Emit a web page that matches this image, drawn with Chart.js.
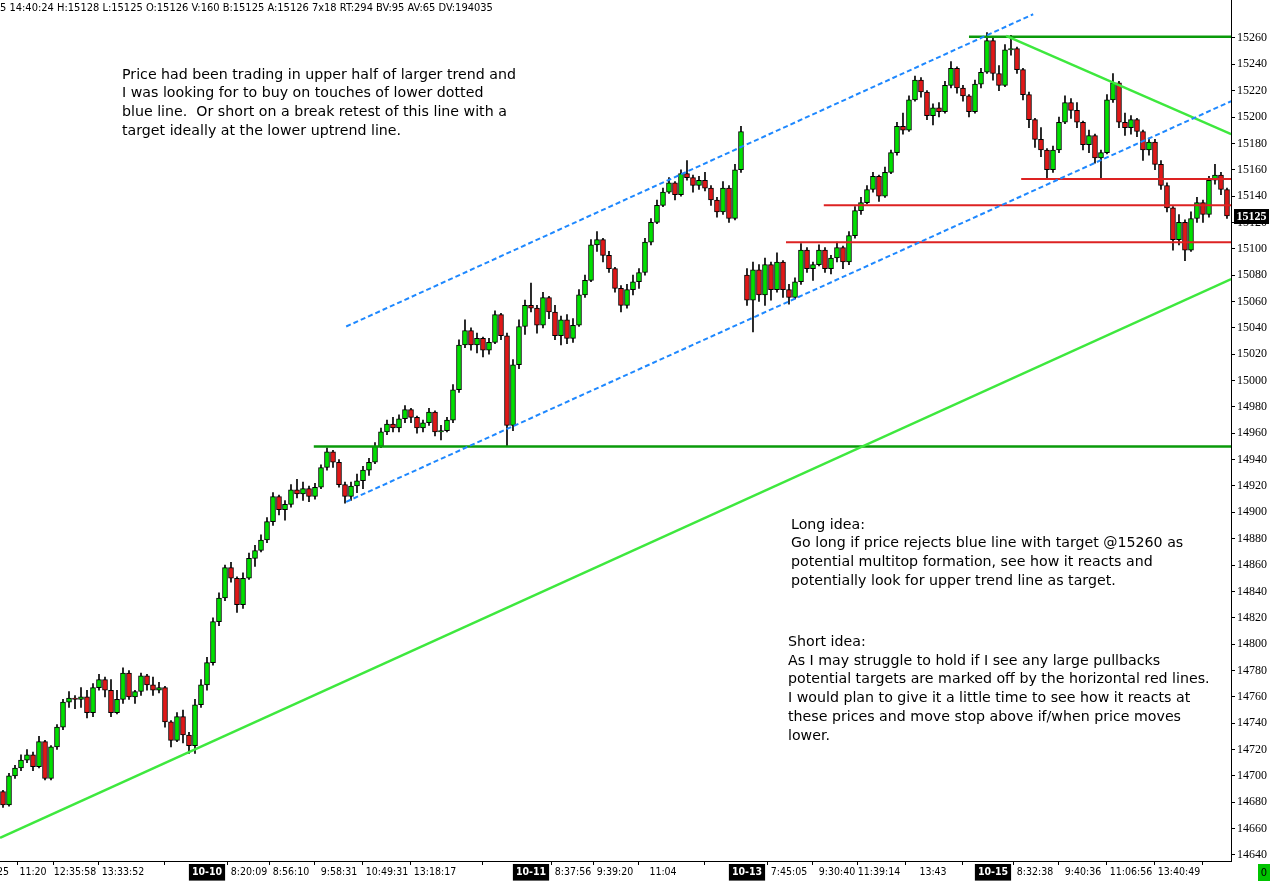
<!DOCTYPE html>
<html>
<head>
<meta charset="utf-8">
<title>Price chart</title>
<script src="https://cdn.jsdelivr.net/npm/chart.js@4.4.1/dist/chart.umd.min.js"></script>
<style>
  html, body { margin: 0; padding: 0; background: #fff; }
  #wrap { width: 1273px; height: 882px; position: relative; }
</style>
</head>
<body>
<div id="wrap"><canvas id="myChart"></canvas></div>
<script>
// candles per session: [open, high, low, close]
const oct09 = [
  [14688,14689,14676,14678], [14678,14702,14677,14700], [14700,14708,14698,14706], [14706,14716,14704,14712],
  [14712,14720,14710,14716], [14716,14718,14704,14707], [14707,14730,14706,14726], [14726,14727,14697,14698],
  [14698,14723,14697,14722], [14722,14739,14720,14737], [14737,14758,14735,14756], [14756,14764,14752,14759],
  [14759,14761,14751,14758], [14758,14767,14752,14760], [14760,14765,14744,14748], [14748,14770,14745,14767],
  [14767,14777,14765,14773], [14773,14775,14760,14765], [14765,14773,14745,14748], [14748,14765,14747,14758],
  [14758,14782,14755,14778], [14778,14780,14758,14760], [14760,14765,14755,14764], [14764,14778,14761,14776],
  [14776,14777,14765,14769], [14769,14775,14761,14765], [14765,14771,14763,14767], [14767,14768,14737,14741],
  [14741,14742,14722,14727], [14727,14748,14726,14745], [14745,14750,14725,14731], [14731,14733,14717,14723],
  [14723,14758,14717,14754], [14754,14773,14752,14769]
];

const oct10 = [
  [14769,14790,14765,14786], [14786,14820,14784,14817], [14817,14839,14814,14835], [14835,14860,14833,14858],
  [14858,14862,14847,14850], [14850,14851,14824,14830], [14830,14854,14827,14850], [14850,14869,14849,14865],
  [14865,14875,14859,14871], [14871,14883,14870,14879], [14879,14896,14877,14893], [14893,14915,14890,14912],
  [14912,14913,14898,14902], [14902,14909,14894,14906], [14906,14921,14904,14917], [14917,14925,14911,14914],
  [14914,14923,14909,14918], [14918,14920,14908,14912], [14912,14922,14910,14919], [14919,14936,14918,14934],
  [14934,14949,14932,14946], [14946,14947,14934,14938], [14938,14940,14919,14921], [14921,14923,14907,14912],
  [14912,14923,14909,14920], [14920,14929,14915,14924], [14924,14935,14918,14932], [14932,14941,14928,14938],
  [14938,14953,14937,14950], [14950,14964,14949,14961], [14961,14970,14959,14967], [14967,14972,14961,14964],
  [14964,14974,14961,14971], [14971,14981,14968,14978], [14978,14979,14968,14972], [14972,14973,14960,14964],
  [14964,14970,14961,14968], [14968,14979,14966,14976], [14976,14977,14958,14961], [14961,14966,14955,14962],
  [14962,14972,14961,14970], [14970,14997,14968,14993], [14993,15031,14991,15027], [15027,15046,15025,15038],
  [15038,15040,15023,15027], [15027,15036,15021,15032], [15032,15033,15018,15023], [15023,15032,15020,15029],
  [15029,15053,15028,15050], [15050,15051,15031,15034], [15034,15036,14950,14966], [14966,15016,14962,15012],
  [15012,15046,15009,15041], [15041,15061,15035,15057]
];

const oct11 = [
  [15057,15074,15052,15055], [15055,15057,15036,15042], [15042,15067,15040,15063], [15063,15064,15047,15052],
  [15052,15057,15031,15034], [15034,15049,15027,15046], [15046,15050,15028,15032], [15032,15047,15029,15042],
  [15042,15069,15041,15065], [15065,15080,15063,15076], [15076,15107,15075,15103], [15103,15113,15098,15107],
  [15107,15108,15090,15095], [15095,15098,15082,15085], [15085,15086,15067,15070], [15070,15072,15052,15057],
  [15057,15073,15055,15069], [15069,15080,15065,15075], [15075,15085,15070,15082], [15082,15108,15080,15105],
  [15105,15123,15103,15120], [15120,15137,15119,15133], [15133,15146,15132,15143], [15143,15154,15142,15150],
  [15150,15151,15137,15141], [15141,15160,15140,15157], [15157,15167,15152,15154], [15154,15156,15143,15148],
  [15148,15155,15145,15152], [15152,15158,15144,15146], [15146,15148,15133,15137], [15137,15139,15124,15128],
  [15128,15151,15126,15146], [15146,15148,15120,15123], [15123,15164,15122,15160], [15160,15193,15158,15189]
];

const oct13 = [
  [15080,15085,15057,15061], [15061,15090,15037,15084], [15084,15088,15060,15065], [15065,15093,15057,15088],
  [15088,15090,15061,15069], [15069,15097,15067,15090], [15090,15091,15063,15069], [15069,15073,15058,15063],
  [15063,15078,15062,15075], [15075,15104,15073,15099], [15099,15101,15082,15085], [15085,15090,15076,15088],
  [15088,15103,15087,15099], [15099,15101,15082,15085], [15085,15095,15081,15093], [15093,15105,15090,15101],
  [15101,15102,15085,15090], [15090,15113,15088,15110], [15110,15132,15108,15129], [15129,15139,15126,15135],
  [15135,15148,15134,15145], [15145,15158,15143,15155], [15155,15156,15136,15140], [15140,15162,15139,15158],
  [15158,15175,15157,15173], [15173,15196,15171,15193], [15193,15203,15187,15190], [15190,15216,15189,15213],
  [15213,15231,15212,15228], [15228,15230,15215,15219], [15219,15220,15198,15201], [15201,15210,15194,15207],
  [15207,15211,15200,15204], [15204,15227,15203,15224], [15224,15242,15222,15237], [15237,15238,15218,15222],
  [15222,15224,15212,15216], [15216,15217,15200,15204], [15204,15228,15203,15225], [15225,15237,15222,15234],
  [15234,15264,15233,15258]
];

const oct15 = [
  [15258,15260,15228,15233], [15233,15239,15220,15224], [15224,15255,15223,15251], [15251,15262,15247,15252],
  [15252,15253,15233,15236], [15236,15237,15213,15217], [15217,15219,15192,15198], [15198,15199,15177,15183],
  [15183,15192,15170,15175], [15175,15176,15154,15160], [15160,15178,15158,15175], [15175,15200,15173,15196],
  [15196,15216,15195,15211], [15211,15214,15199,15205], [15205,15211,15192,15196], [15196,15197,15175,15179],
  [15179,15190,15173,15186], [15186,15187,15165,15169], [15169,15175,15154,15173], [15173,15217,15172,15213],
  [15213,15233,15211,15226], [15226,15227,15192,15196], [15196,15203,15186,15192], [15192,15201,15187,15198],
  [15198,15199,15185,15189], [15189,15190,15167,15175], [15175,15184,15171,15181], [15181,15183,15160,15164],
  [15164,15167,15145,15148], [15148,15150,15128,15131], [15131,15132,15099,15107], [15107,15126,15103,15120],
  [15120,15122,15091,15099], [15099,15128,15098,15123], [15123,15139,15120,15135], [15135,15137,15120,15126],
  [15126,15155,15124,15152], [15152,15164,15149,15156], [15156,15158,15141,15145], [15145,15146,15123,15125]
];

// time axis labels (bar index -> text)
const tickIndex = [0, 5, 12, 20, 34, 41, 48, 56, 64, 72, 88, 95, 102, 110, 124, 131, 139, 146, 155, 165, 172, 180, 188, 196];
const tickText = ["25", "11:20", "12:35:58", "13:33:52", "10-10", "8:20:09", "8:56:10", "9:58:31", "10:49:31", "13:18:17",
  "10-11", "8:37:56", "9:39:20", "11:04", "10-13", "7:45:05", "9:30:40", "11:39:14", "13:43",
  "10-15", "8:32:38", "9:40:36", "11:06:56", "13:40:49"];

// drawn lines: [bar index, price] endpoints
const upperChannel = [[57.2, 15041], [171.7, 15278]];
const lowerChannel = [[57.2, 14908], [204.7, 15212]];
const majorUptrend = [[-0.5, 14653], [204.7, 15077]];
const topDowntrend = [[167.2, 15261.5], [204.7, 15187]];
const supportLine = [[51.8, 14950], [204.7, 14950]];
const topLine = [[161.0, 15261], [204.7, 15261]];
const redLevels = [[[169.7, 15153], [204.7, 15153]], [[136.8, 15133], [204.7, 15133]], [[130.5, 15105], [204.7, 15105]]];

const headerText = "5 14:40:24 H:15128 L:15125 O:15126 V:160 B:15125 A:15126 7x18 RT:294 BV:95 AV:65 DV:194035";
const noteTop = ["Price had been trading in upper half of larger trend and",
  "I was looking for to buy on touches of lower dotted",
  "blue line.  Or short on a break retest of this line with a",
  "target ideally at the lower uptrend line."];
const noteLong = ["Long idea:",
  "Go long if price rejects blue line with target @15260 as",
  "potential multitop formation, see how it reacts and",
  "potentially look for upper trend line as target."];
const noteShort = ["Short idea:",
  "As I may struggle to hold if I see any large pullbacks",
  "potential targets are marked off by the horizontal red lines.",
  "I would plan to give it a little time to see how it reacts at",
  "these prices and move stop above if/when price moves",
  "lower."];

const candles = [...oct09, ...oct10, ...oct11, ...oct13, ...oct15];
const lastClose = candles[candles.length - 1][3];

const narrowFont = '"Liberation Sans Narrow", "DejaVu Sans Condensed", sans-serif';
const serifFont = '"Liberation Serif", "DejaVu Serif", serif';
const noteFont = '14.2px "DejaVu Sans", sans-serif';

function lineSet(points, color, width, dash) {
  return {
    type: "line",
    data: points.map(p => ({ x: p[0], y: p[1] })),
    borderColor: color,
    borderWidth: width,
    borderDash: dash || [],
    pointRadius: 0,
    fill: false,
    tension: 0,
    order: 0
  };
}

const notesPlugin = {
  id: "notes",
  beforeDraw(chart) {
    const ctx = chart.ctx;
    ctx.save();
    ctx.fillStyle = "#fff";
    ctx.fillRect(0, 0, chart.width, chart.height);
    ctx.restore();
  },
  afterDraw(chart) {
    const ctx = chart.ctx;
    ctx.save();
    ctx.fillStyle = "#000";
    ctx.textBaseline = "middle";
    ctx.textAlign = "left";

    ctx.font = "11px " + narrowFont;
    ctx.fillText(headerText, 0, 8);

    ctx.font = noteFont;
    noteTop.forEach((t, k) => ctx.fillText(t, 122, 75 + k * 18.7));
    noteLong.forEach((t, k) => ctx.fillText(t, 791, 525 + k * 18.7));
    noteShort.forEach((t, k) => ctx.fillText(t, 788, 642 + k * 18.9));

    // last price marker
    const y = chart.scales.y.getPixelForValue(lastClose);
    ctx.fillStyle = "#000";
    ctx.fillRect(1234, Math.round(y) - 7, 35, 15);
    ctx.fillStyle = "#fff";
    ctx.font = "bold 12px " + serifFont;
    ctx.textAlign = "center";
    ctx.fillText(String(lastClose), 1251.5, y + 1);

    // status box bottom right
    ctx.fillStyle = "#00c400";
    ctx.fillRect(1258, 864, 12, 17);
    ctx.fillStyle = "#000";
    ctx.font = "11px " + narrowFont;
    ctx.fillText("0", 1264, 873);
    ctx.restore();
  }
};

const isDate = c => (tickText[c.index] || "").indexOf("-") !== -1;

new Chart(document.getElementById("myChart"), {
  type: "bar",
  data: {
    datasets: [
      lineSet(upperChannel, "#1e88ff", 2, [5, 3]),
      lineSet(lowerChannel, "#1e88ff", 2, [5, 3]),
      lineSet(majorUptrend, "#3ee83e", 2.5),
      lineSet(topDowntrend, "#3ee83e", 2.5),
      lineSet(supportLine, "#0a9a0a", 2.5),
      lineSet(topLine, "#0a9a0a", 2.5),
      ...redLevels.map(l => lineSet(l, "#dd2222", 2)),
      {
        type: "bar",
        data: candles.map((c, i) => ({ x: i, y: [c[0], c[3]] })),
        backgroundColor: candles.map(c => (c[3] >= c[0] ? "#00e000" : "#e01818")),
        borderColor: "#000",
        borderWidth: 1,
        borderSkipped: false,
        barThickness: 5,
        grouped: false,
        order: 1
      },
      {
        type: "bar",
        data: candles.map((c, i) => ({ x: i, y: [c[2], c[1]] })),
        backgroundColor: "#000",
        barThickness: 1,
        grouped: false,
        order: 2
      }
    ]
  },
  options: {
    responsive: true,
    maintainAspectRatio: false,
    animation: false,
    events: [],
    layout: { padding: 0 },
    plugins: {
      legend: { display: false },
      tooltip: { enabled: false }
    },
    scales: {
      x: {
        type: "linear",
        min: -0.5,
        max: 204.67,
        offset: false,
        afterBuildTicks: s => { s.ticks = tickIndex.map(v => ({ value: v })); },
        afterFit: s => { s.height = 21; s.paddingLeft = 0; s.paddingRight = 0; },
        ticks: {
          autoSkip: false,
          maxRotation: 0,
          padding: 1,
          callback: (v, i) => tickText[i],
          color: c => (isDate(c) ? "#fff" : "#000"),
          font: c => ({ family: narrowFont, size: 10.5, weight: isDate(c) ? "bold" : "normal" }),
          showLabelBackdrop: c => isDate(c),
          backdropColor: "#000",
          backdropPadding: { x: 3, y: 2 }
        },
        grid: { drawOnChartArea: false, tickLength: 4, tickColor: "#000" },
        border: { color: "#000", width: 1 }
      },
      y: {
        position: "right",
        min: 14635.4,
        max: 15288.8,
        afterBuildTicks: s => { s.ticks = s.ticks.filter(t => t.value <= 15260); },
        afterFit: s => { s.width = 42; s.paddingTop = 0; s.paddingBottom = 0; },
        ticks: {
          stepSize: 20,
          includeBounds: false,
          autoSkip: false,
          padding: 2,
          color: "#000",
          font: { family: serifFont, size: 12 },
          callback: v => String(v)
        },
        grid: { drawOnChartArea: false, tickLength: 4, tickColor: "#000" },
        border: { color: "#000", width: 1 }
      }
    }
  },
  plugins: [notesPlugin]
});
</script>
</body>
</html>
